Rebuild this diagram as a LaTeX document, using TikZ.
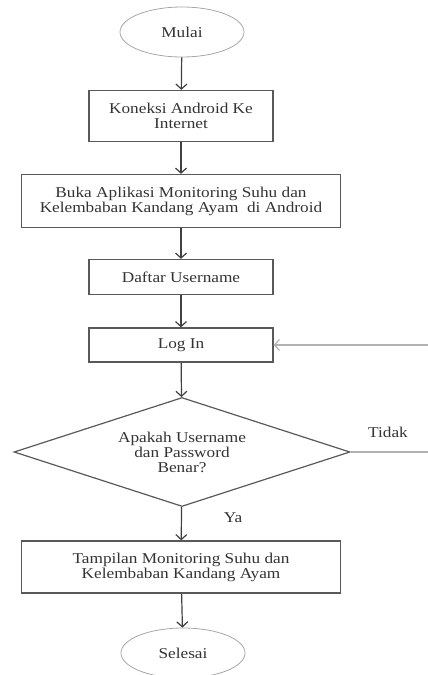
\documentclass[tikz,border=0pt]{standalone}
\usepackage{fontspec}
\setmainfont{Liberation Serif}[FakeStretch=1.15]
\usetikzlibrary{shapes.geometric, arrows.meta}

\begin{document}
\begin{tikzpicture}[x=1pt, y=-1pt,
        teks/.style={text=black!80, font=\fontsize{15}{15}\selectfont, align=center},
        terminal/.style={teks, ellipse, draw=black!35, line width=0.8pt, minimum width=124pt, minimum height=50pt, inner sep=0pt},
        proses/.style={teks, rectangle, draw=black!65, line width=1.3pt, inner sep=0pt},
        keputusan/.style={teks, diamond, draw=black!65, line width=1.2pt, aspect=3.1, minimum width=336pt, minimum height=109pt, inner sep=0pt},
        panah/.style={draw=black!75, line width=1.2pt, -{Straight Barb[length=5pt, width=11pt]}},
        balik/.style={draw=black!30, line width=1.2pt, -{Straight Barb[length=5pt, width=11pt]}}
        ]
        \useasboundingbox (0, 0) rectangle (428, 675);
        \clip (0, 0) rectangle (428, 675);

        \node[terminal] (mulai) at (182, 32){Mulai};
        \node[proses, minimum width=184pt, minimum height=51pt] (koneksi) at (181, 116){Koneksi Android Ke\\Internet};
        \node[proses, minimum width=319pt, minimum height=53pt] (buka) at (181, 201){Buka Aplikasi Monitoring Suhu dan\\Kelembaban Kandang Ayam \ di Android};
        \node[proses, minimum width=184pt, minimum height=35pt] (daftar) at (181, 277){Daftar Username};
        \node[proses, minimum width=184pt, minimum height=34pt] (login) at (181, 345){Log In};
        \node[keputusan] (cek) at (182, 452){Apakah Username\\dan Password\\Benar?};
        \node[proses, minimum width=319pt, minimum height=52pt] (tampilan) at (181, 567){Tampilan Monitoring Suhu dan\\Kelembaban Kandang Ayam};
        \node[terminal] (selesai) at (183, 653){Selesai};

        \node[teks] (tidak) at (388, 432){Tidak};
        \node[teks] (ya) at (233, 518){Ya};

        \draw[panah] (mulai) -- (koneksi);
        \draw[panah] (koneksi) -- (buka);
        \draw[panah] (buka) -- (daftar);
        \draw[panah] (daftar) -- (login);
        \draw[panah] (login) -- (cek);
        \draw[panah] (cek) -- (tampilan);
        \draw[panah] (tampilan) -- (selesai);
        \draw[balik] (cek.east) -- ++(100, 0) |- (login.east);
\end{tikzpicture}
\end{document}
